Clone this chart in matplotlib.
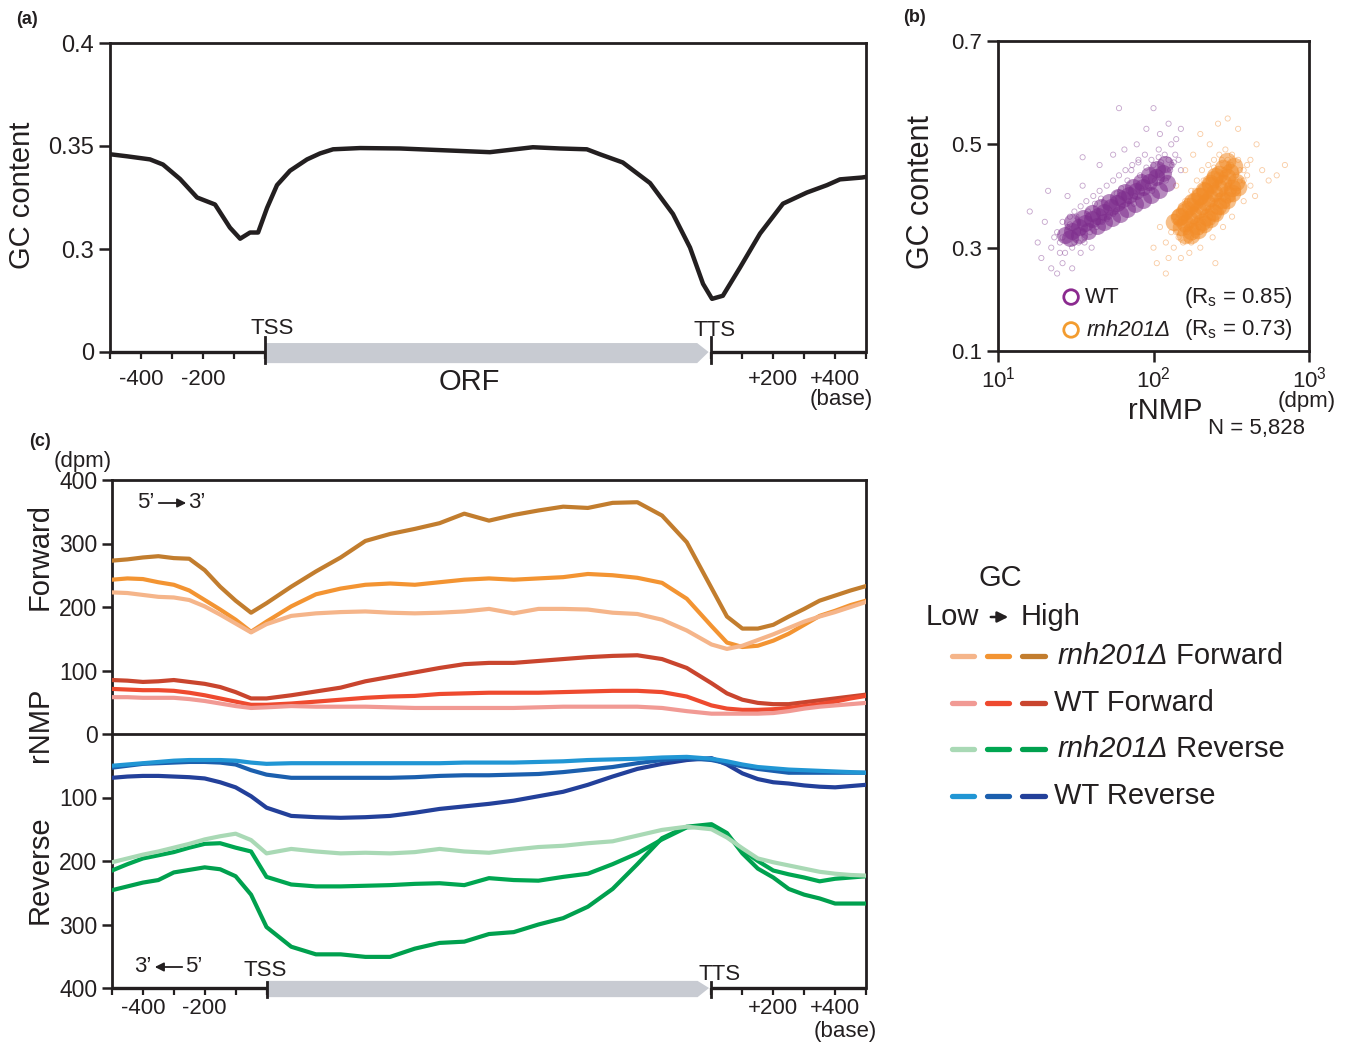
import numpy as np
import matplotlib.pyplot as plt
import matplotlib.transforms as mtransforms
from matplotlib.patches import Polygon
from matplotlib.lines import Line2D
from matplotlib.ticker import NullLocator

plt.rcParams['font.family'] = ['Liberation Sans', 'DejaVu Sans']
plt.rcParams['mathtext.fontset'] = 'custom'
plt.rcParams['mathtext.rm'] = 'Liberation Sans'
plt.rcParams['mathtext.it'] = 'Liberation Sans:italic'
plt.rcParams['axes.linewidth'] = 2.0

W, H = 1352, 1042
INK = '#231f20'
ORF_GREY = '#c8cbd2'
TTS = 1440  # ORF is rescaled so that the TTS sits here (bases-like units)

# ---------------- (a) GC content profile ----------------
gc_pos = [-500, -445, -371, -329, -274, -219, -161, -113, -80, -48,
          -22, 7, 39, 81, 136, 178, 220, 307,
          436, 565, 726, 865, 952, 1039, 1081, 1155, 1243, 1317,
          1372, 1414, 1443, 1478, 1533, 1598,
          1672, 1749, 1814, 1856, 1927, 1940]
gc_val = [0.346, 0.345, 0.3435, 0.341, 0.334, 0.325, 0.3216, 0.3104, 0.305, 0.308,
          0.308, 0.320, 0.331, 0.338, 0.3435, 0.3464, 0.3484, 0.349,
          0.3488, 0.348, 0.347, 0.3494, 0.3488, 0.3484, 0.346, 0.342, 0.332, 0.317,
          0.3007, 0.2831, 0.2758, 0.2773, 0.2909, 0.3075,
          0.322, 0.3274, 0.331, 0.3338, 0.3347, 0.335]

# ---------------- (b) rNMP vs GC content ----------------
wt_core_dpm = [27, 30, 33, 36, 40, 44, 48, 53, 58, 64, 70, 77, 85, 94, 104, 115,
               30, 35, 40, 46, 52, 59, 66, 74, 83, 93, 105, 118,
               29, 33, 38, 43, 48, 54, 61, 68, 76, 85, 96, 108, 122]
wt_core_gc = [0.325, 0.333, 0.340, 0.347, 0.355, 0.362, 0.370, 0.378, 0.386, 0.394, 0.402, 0.410,
              0.418, 0.427, 0.436, 0.445,
              0.350, 0.358, 0.368, 0.378, 0.388, 0.398, 0.408, 0.418, 0.428, 0.440, 0.452, 0.462,
              0.318, 0.325, 0.333, 0.342, 0.350, 0.358, 0.366, 0.375, 0.384, 0.393, 0.402, 0.412,
              0.425]
wt_halo_dpm = [22, 24, 25, 26, 27, 28, 29, 30, 31, 33, 34, 36, 37, 39, 41, 43, 45, 47, 50, 52,
               55, 57, 60, 63, 66, 69, 73, 76, 80, 84, 88, 92, 97, 102, 108, 113, 118, 125, 132,
               138, 145, 45, 55, 65, 78, 35, 28, 20, 18, 21, 19, 22, 26, 30, 34, 24, 40, 16, 90,
               110, 125, 140, 100, 60, 150, 130, 35,
               26, 29, 32, 35, 38, 42, 46, 50, 55, 62, 68, 75, 82, 90, 98, 112, 120, 128, 135,
               100, 108, 80, 72, 58, 44, 36, 31, 25, 23, 150]
wt_halo_gc = [0.30, 0.33, 0.31, 0.35, 0.29, 0.34, 0.36, 0.30, 0.37, 0.31, 0.38, 0.32, 0.39, 0.33,
              0.40, 0.34, 0.41, 0.35, 0.42, 0.36, 0.43, 0.37, 0.44, 0.38, 0.45, 0.39, 0.46, 0.40,
              0.47, 0.41, 0.48, 0.42, 0.47, 0.43, 0.49, 0.44, 0.48, 0.47, 0.46, 0.48, 0.47, 0.46,
              0.48, 0.49, 0.50, 0.42, 0.40, 0.35, 0.31, 0.41, 0.28, 0.26, 0.27, 0.26, 0.29, 0.25,
              0.30, 0.37, 0.53, 0.52, 0.54, 0.51, 0.57, 0.57, 0.53, 0.50, 0.475,
              0.32, 0.345, 0.36, 0.33, 0.37, 0.385, 0.395, 0.355, 0.365, 0.415, 0.43, 0.385,
              0.44, 0.455, 0.41, 0.465, 0.43, 0.45, 0.465, 0.46, 0.475, 0.465, 0.45, 0.405,
              0.35, 0.31, 0.31, 0.29, 0.32, 0.45]

rnh_core_dpm = [150, 160, 170, 180, 192, 205, 218, 232, 246, 262, 278, 295, 312, 330,
                145, 158, 172, 186, 200, 215, 230, 246, 262, 280, 298,
                160, 175, 190, 205, 222, 240, 258, 276, 296, 318, 340,
                135, 148, 162, 178, 195, 212, 230, 250,
                175, 192, 210, 230, 250, 272, 296, 322, 350]
rnh_core_gc = [0.340, 0.348, 0.356, 0.364, 0.372, 0.380, 0.388, 0.397, 0.406, 0.415, 0.425, 0.436,
               0.447, 0.458,
               0.360, 0.370, 0.380, 0.390, 0.400, 0.410, 0.421, 0.432, 0.443, 0.455, 0.467,
               0.325, 0.333, 0.342, 0.350, 0.360, 0.370, 0.380, 0.392, 0.403, 0.415, 0.428,
               0.350, 0.362, 0.375, 0.388, 0.400, 0.412, 0.425, 0.438,
               0.325, 0.335, 0.345, 0.355, 0.367, 0.380, 0.392, 0.405, 0.418]
rnh_halo_dpm = [120, 130, 135, 140, 145, 150, 155, 160, 165, 175, 180, 190, 195, 205, 210, 225, 230,
                245, 250, 265, 270, 290, 300, 320, 330, 350, 360, 380, 400, 420, 110, 100, 105, 125,
                150, 170, 200, 240, 280, 320, 380, 450, 500, 550, 620, 700, 260, 300, 200, 350, 230,
                180, 160, 140, 460, 120, 250,
                140, 145, 155, 165, 170, 185, 190, 200, 215, 225, 240, 255, 265, 285, 300, 315,
                340, 360, 300, 275, 245, 210, 185, 165, 150, 135, 350, 380, 400, 420, 240, 200, 175]
rnh_halo_gc = [0.31, 0.33, 0.30, 0.35, 0.32, 0.37, 0.31, 0.39, 0.33, 0.41, 0.32, 0.43, 0.34, 0.45,
               0.35, 0.46, 0.36, 0.47, 0.37, 0.48, 0.38, 0.49, 0.39, 0.48, 0.41, 0.47, 0.43, 0.45,
               0.44, 0.42, 0.34, 0.30, 0.27, 0.28, 0.28, 0.29, 0.30, 0.32, 0.34, 0.36, 0.39, 0.40,
               0.45, 0.43, 0.44, 0.46, 0.54, 0.55, 0.52, 0.53, 0.50, 0.48, 0.45, 0.42, 0.50, 0.25,
               0.27,
               0.33, 0.345, 0.335, 0.36, 0.345, 0.375, 0.355, 0.39, 0.37, 0.42, 0.39, 0.44, 0.40,
               0.45, 0.42, 0.46, 0.44, 0.45, 0.47, 0.47, 0.455, 0.43, 0.41, 0.39, 0.38, 0.36,
               0.41, 0.43, 0.46, 0.47, 0.35, 0.33, 0.31]

# ---------------- (c) rNMP profiles (dpm), low -> mid -> high GC ----------------
pos_c = [-500, -450, -400, -350, -300, -250, -200, -150, -100, -50, 0,
         80, 160, 240, 320, 400, 480, 560, 640, 720, 800, 880, 960, 1040, 1120, 1200, 1280, 1360,
         1440, 1490, 1540, 1590, 1640, 1690, 1740, 1790, 1840, 1890, 1940]

rnh_fwd_high = [273, 275, 278, 280, 277, 276, 258, 232, 210, 191, 206,
                232, 256, 278, 304, 315, 323, 332, 347, 336, 345, 352, 358, 356, 364, 365, 344, 302,
                230, 185, 166, 166, 172, 185, 197, 210, 218, 226, 233]
rnh_fwd_mid = [243, 245, 244, 239, 235, 226, 211, 196, 180, 161, 177,
               201, 220, 229, 235, 237, 235, 239, 243, 245, 243, 245, 247, 252, 250, 246, 238, 213,
               170, 144, 137, 139, 147, 158, 172, 186, 194, 203, 210]
rnh_fwd_low = [223, 222, 219, 216, 215, 211, 201, 188, 174, 160, 173,
               186, 190, 192, 193, 191, 190, 191, 193, 197, 190, 197, 197, 196, 191, 189, 180, 163,
               141, 134, 139, 148, 157, 167, 177, 185, 192, 200, 208]
wt_fwd_high = [85, 84, 82, 83, 85, 82, 79, 74, 66, 56, 56,
               61, 67, 73, 83, 90, 97, 104, 110, 112, 112, 115, 118, 121, 123, 124, 118, 104,
               80, 64, 54, 49, 47, 47, 50, 53, 56, 59, 62]
wt_fwd_mid = [71, 70, 69, 69, 68, 65, 61, 56, 51, 46, 46,
              48, 51, 54, 57, 59, 60, 63, 64, 65, 65, 65, 66, 67, 68, 68, 66, 59,
              45, 40, 38, 38, 39, 41, 44, 47, 51, 56, 60]
wt_fwd_low = [58, 58, 57, 57, 57, 55, 52, 48, 44, 41, 42,
              44, 43, 43, 43, 42, 41, 41, 41, 41, 41, 42, 43, 43, 43, 43, 41, 36,
              32, 32, 32, 32, 33, 36, 40, 43, 45, 47, 49]

wt_rev_low = [50, 48, 46, 44, 42, 41, 41, 41, 42, 45, 47,
              46, 46, 46, 46, 46, 46, 46, 45, 45, 45, 44, 43, 41, 40, 39, 37, 36,
              39, 43, 48, 52, 54, 56, 57, 58, 59, 60, 61]
wt_rev_mid = [53, 50, 47, 46, 45, 44, 44, 45, 48, 57, 64,
              69, 69, 69, 69, 69, 68, 66, 65, 65, 64, 63, 60, 56, 52, 46, 41, 38,
              41, 46, 51, 55, 58, 61, 61, 61, 61, 61, 61]
wt_rev_high = [69, 67, 66, 66, 67, 68, 70, 76, 84, 98, 116,
               129, 131, 132, 131, 129, 124, 118, 114, 110, 105, 98, 91, 80, 67, 55, 47, 41,
               38, 48, 62, 71, 76, 78, 81, 83, 84, 82, 80]
rnh_rev_low = [202, 196, 190, 185, 179, 173, 166, 161, 157, 167, 188,
               181, 185, 188, 187, 188, 186, 181, 185, 187, 182, 178, 176, 172, 169, 160, 151, 146,
               150, 163, 180, 196, 202, 207, 212, 217, 220, 222, 223]
rnh_rev_mid = [215, 205, 196, 191, 186, 179, 173, 172, 179, 185, 225,
               237, 240, 240, 239, 238, 236, 235, 238, 227, 230, 231, 225, 220, 205, 188, 166, 147,
               145, 160, 183, 200, 215, 221, 226, 232, 228, 226, 224]
rnh_rev_high = [246, 240, 234, 230, 218, 214, 210, 213, 224, 253, 304,
                335, 347, 347, 351, 351, 338, 329, 327, 315, 312, 300, 290, 272, 244, 205, 164, 146,
                142, 156, 188, 212, 226, 244, 253, 259, 267, 267, 267]

rnh_fwd_colors = ['#f5b58a', '#f39432', '#c27d2e']
wt_fwd_colors = ['#f19a94', '#ee4a2f', '#c9452e']
rnh_rev_colors = ['#a9d9b5', '#00a651', '#00a04e']
wt_rev_colors = ['#2196d4', '#1b5fae', '#23409a']


def fx(x):
    return x / W


def fy(y):
    return 1 - y / H


def box(l, t, r, b):
    return [fx(l), fy(b), (r - l) / W, (b - t) / H]


def ftext(x, y, s, **kw):
    kw.setdefault('ha', 'center')
    kw.setdefault('va', 'center')
    kw.setdefault('color', INK)
    return fig.text(fx(x), fy(y), s, **kw)


def gene_axis(ax, top, bot, mark_top, fs, pad):
    tr = mtransforms.blended_transform_factory(ax.transData, ax.transAxes)
    ax.spines['bottom'].set_visible(False)
    for x0, x1 in [(-500, 0), (TTS, 1940)]:
        ax.plot([x0, x1], [0, 0], color=INK, lw=2.4, transform=tr,
                clip_on=False, solid_capstyle='butt', zorder=5)
    orf = Polygon([(0, top), (TTS - 45, top), (TTS - 8, 0), (TTS - 45, bot), (0, bot)],
                  closed=True, transform=tr, clip_on=False, facecolor=ORF_GREY,
                  edgecolor='none', zorder=1)
    ax.add_patch(orf)
    for x in (0, TTS):
        ax.plot([x, x], [bot, mark_top], color=INK, lw=2.0, transform=tr,
                clip_on=False, zorder=5)
    ticks = [-500, -400, -300, -200, -100, 0, TTS, TTS + 100, TTS + 200, TTS + 300,
             TTS + 400, TTS + 500]
    labels = ['', '-400', '', '-200', '', '', '', '', '+200', '', '+400', '']
    ax.set_xticks(ticks)
    ax.set_xticklabels(labels)
    ax.tick_params(axis='x', direction='out', length=5, width=1.6, color=INK,
                   labelsize=fs, pad=pad, labelcolor=INK)
    ax.set_xlim(-500, 1940)


fig = plt.figure(figsize=(W / 100, H / 100), dpi=100)

# ================= panel (a) =================
ax_a = fig.add_axes(box(110, 43, 866, 352))
ax_a.plot(gc_pos, gc_val, color=INK, lw=3.2, solid_joinstyle='round', zorder=3)
ax_a.set_ylim(0.25, 0.4)
ax_a.set_yticks([0.25, 0.3, 0.35, 0.4])
ax_a.set_yticklabels(['0', '0.3', '0.35', '0.4'])
ax_a.tick_params(axis='y', direction='out', length=8, width=1.8, labelsize=17,
                 color=INK, labelcolor=INK)
gene_axis(ax_a, 0.029, -0.036, 0.049, 16, 7)
for s in ax_a.spines.values():
    s.set_color(INK)

ftext(27, 19, '(a)', fontsize=13, fontweight='bold')
ftext(22, 195, 'GC content', fontsize=21, rotation=90)
ftext(272, 328, 'TSS', fontsize=16)
ftext(715, 331, 'TTS', fontsize=16)
ftext(469, 382, 'ORF', fontsize=21)
ftext(841, 400, '(base)', fontsize=16)

# ================= panel (b) =================
ax_b = fig.add_axes(box(998, 41, 1309, 351))
ax_b.scatter(wt_halo_dpm, wt_halo_gc, s=14, facecolors='none', edgecolors='#8a4a98',
             linewidths=0.6, alpha=0.5, zorder=2)
ax_b.scatter(rnh_halo_dpm, rnh_halo_gc, s=14, facecolors='none', edgecolors='#f4a055',
             linewidths=0.6, alpha=0.55, zorder=2)
ax_b.scatter(wt_core_dpm, wt_core_gc, s=150, color='#7d2c8c', alpha=0.55,
             linewidths=0, zorder=3)
ax_b.scatter(rnh_core_dpm, rnh_core_gc, s=160, color='#f28c28', alpha=0.55,
             linewidths=0, zorder=3)
ax_b.set_xscale('log')
ax_b.set_xlim(10, 1000)
ax_b.set_ylim(0.1, 0.7)
ax_b.set_xticks([10, 100, 1000])
ax_b.set_xticklabels(['$10^1$', '$10^2$', '$10^3$'])
ax_b.xaxis.set_minor_locator(NullLocator())
ax_b.set_yticks([0.1, 0.3, 0.5, 0.7])
ax_b.set_yticklabels(['0.1', '0.3', '0.5', '0.7'])
ax_b.tick_params(direction='out', length=8, width=1.8, labelsize=16, color=INK,
                 labelcolor=INK)
for s in ax_b.spines.values():
    s.set_color(INK)

ax_b.scatter([0.235, 0.235], [0.174, 0.068], transform=ax_b.transAxes, s=110,
             facecolors='none', edgecolors=['#8b2a8f', '#f39c2f'], linewidths=2,
             clip_on=False, zorder=4)
ftext(1085, 298, 'WT', fontsize=16, ha='left')
ftext(1087, 330, 'rnh201\u0394', fontsize=16, ha='left', style='italic')
ftext(1293, 298, r'(R$_\mathrm{s}$ = 0.85)', fontsize=16, ha='right')
ftext(1293, 330, r'(R$_\mathrm{s}$ = 0.73)', fontsize=16, ha='right')

ftext(915, 18, '(b)', fontsize=13, fontweight='bold')
ftext(921, 192, 'GC content', fontsize=22, rotation=90)
ftext(1165, 411, 'rNMP', fontsize=21)
ftext(1257, 428, 'N = 5,828', fontsize=16)
ftext(1307, 402, '(dpm)', fontsize=16)

# ================= panel (c) =================
ax_c = fig.add_axes(box(112, 480, 866, 988))
for vals, c in zip([rnh_fwd_high, rnh_fwd_mid, rnh_fwd_low], rnh_fwd_colors[::-1]):
    ax_c.plot(pos_c, vals, color=c, lw=3, solid_joinstyle='round', zorder=3)
for vals, c in zip([wt_fwd_high, wt_fwd_mid, wt_fwd_low], wt_fwd_colors[::-1]):
    ax_c.plot(pos_c, vals, color=c, lw=3, solid_joinstyle='round', zorder=3)
for vals, c in zip([rnh_rev_high, rnh_rev_mid, rnh_rev_low], rnh_rev_colors[::-1]):
    ax_c.plot(pos_c, -np.array(vals), color=c, lw=3, solid_joinstyle='round', zorder=3)
for vals, c in zip([wt_rev_high, wt_rev_mid, wt_rev_low], wt_rev_colors[::-1]):
    ax_c.plot(pos_c, -np.array(vals), color=c, lw=3, solid_joinstyle='round', zorder=3)
ax_c.axhline(0, color=INK, lw=2.0, zorder=4)
ax_c.set_ylim(-400, 400)
ax_c.set_yticks([-400, -300, -200, -100, 0, 100, 200, 300, 400])
ax_c.set_yticklabels(['400', '300', '200', '100', '0', '100', '200', '300', '400'])
ax_c.tick_params(axis='y', direction='out', length=7, width=1.8, labelsize=16.5,
                 color=INK, labelcolor=INK)
gene_axis(ax_c, 0.014, -0.018, 0.012, 16, 2)
for s in ax_c.spines.values():
    s.set_color(INK)

ftext(40, 442, '(c)', fontsize=13, fontweight='bold')
ftext(83, 462, '(dpm)', fontsize=16)
ftext(40, 557, 'Forward', fontsize=21, rotation=90)
ftext(40, 725, 'rNMP', fontsize=21, rotation=90)
ftext(40, 870, 'Reverse', fontsize=21, rotation=90)
ftext(265, 971, 'TSS', fontsize=16)
ftext(720, 975, 'TTS', fontsize=16)
ftext(845, 1031, '(base)', fontsize=16)

# strand direction hints
ftext(146, 502, '5\u2019', fontsize=16)
ftext(197, 502, '3\u2019', fontsize=16)
ax_c.annotate('', xy=(fx(189), fy(503)), xytext=(fx(156), fy(503)),
              xycoords='figure fraction', textcoords='figure fraction',
              arrowprops=dict(arrowstyle='-|>', color=INK, lw=1.3, mutation_scale=13))
ftext(143, 966, '3\u2019', fontsize=16)
ftext(194, 966, '5\u2019', fontsize=16)
ax_c.annotate('', xy=(fx(152), fy(967)), xytext=(fx(185), fy(967)),
              xycoords='figure fraction', textcoords='figure fraction',
              arrowprops=dict(arrowstyle='-|>', color=INK, lw=1.3, mutation_scale=13))

# legend for (c)
ftext(1000, 578, 'GC', fontsize=21)
ftext(926, 617, 'Low', fontsize=21, ha='left')
ftext(1021, 617, 'High', fontsize=21, ha='left')
ax_c.annotate('', xy=(fx(1011), fy(617)), xytext=(fx(988), fy(617)),
              xycoords='figure fraction', textcoords='figure fraction',
              arrowprops=dict(arrowstyle='-|>', color=INK, lw=1.8, mutation_scale=16))

dash_spans = [(952, 974), (987, 1009), (1022, 1045)]
rows = [(656, rnh_fwd_colors, 'rnh201\u0394', ' Forward'),
        (703, wt_fwd_colors, None, 'WT Forward'),
        (749, rnh_rev_colors, 'rnh201\u0394', ' Reverse'),
        (796, wt_rev_colors, None, 'WT Reverse')]
for y, cols, ital, rest in rows:
    for (x0, x1), c in zip(dash_spans, cols):
        fig.add_artist(Line2D([fx(x0), fx(x1)], [fy(y), fy(y)], transform=fig.transFigure,
                              color=c, lw=3.8, solid_capstyle='round'))
    if ital:
        t = ftext(1058, y, ital, fontsize=21, ha='left', style='italic')
        ax_c.annotate(rest, xy=(1, 0.5), xycoords=t, ha='left', va='center',
                      fontsize=21, color=INK, annotation_clip=False)
    else:
        ftext(1054, y, rest, fontsize=21, ha='left')

fig.savefig('out.png', dpi=100)
